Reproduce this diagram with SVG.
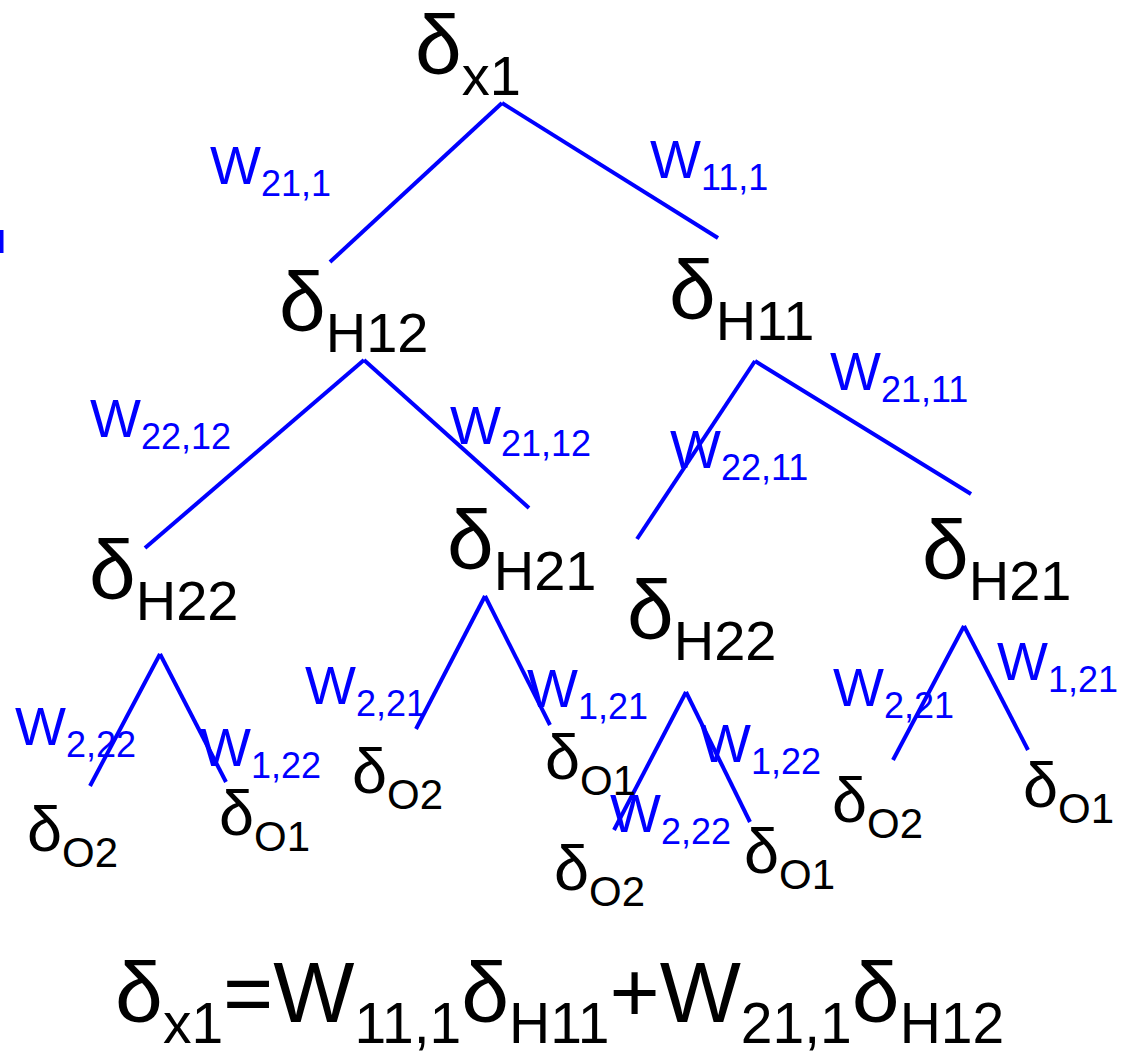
<svg xmlns="http://www.w3.org/2000/svg" width="1121" height="1054" viewBox="0 0 1121 1054">
<style>
text{font-family:"Liberation Sans",Arial,sans-serif}
.n{font-size:84px;fill:#000}
.n .s{font-size:56px}
.e{font-size:86px;fill:#000}
.e .s{font-size:57px}
.o{font-size:63px;fill:#000}
.o .s{font-size:42px}
.w{font-size:54px;fill:#0000ff}
.w .s{font-size:36px}
.c line{stroke:#0000ff;stroke-width:4;stroke-linecap:butt}
</style>
<rect width="1121" height="1054" fill="#fff"/>
<g class="c" id="connectors">
<line x1="502" y1="103" x2="330" y2="262"/>
<line x1="502" y1="103" x2="718" y2="238"/>
<line x1="364" y1="360" x2="145" y2="548"/>
<line x1="364" y1="360" x2="529" y2="508"/>
<line x1="755" y1="361" x2="637" y2="539"/>
<line x1="755" y1="361" x2="971" y2="494"/>
<line x1="160" y1="654" x2="90" y2="786"/>
<line x1="160" y1="654" x2="226" y2="782"/>
<line x1="485" y1="596" x2="416" y2="729"/>
<line x1="485" y1="596" x2="550" y2="725"/>
<line x1="686" y1="692" x2="614" y2="830"/>
<line x1="686" y1="692" x2="750" y2="822"/>
<line x1="964" y1="626" x2="893" y2="760"/>
<line x1="964" y1="626" x2="1028" y2="750"/>
<line x1="1.5" y1="230" x2="1.5" y2="253"/>
</g>
<g id="labels">
<text class="w" x="210" y="184">W<tspan class="s" dy="12">21,1</tspan></text>
<text class="w" x="650" y="178">W<tspan class="s" dy="12">11,1</tspan></text>
<text class="w" x="90" y="437">W<tspan class="s" dy="12">22,12</tspan></text>
<text class="w" x="450" y="444">W<tspan class="s" dy="12">21,12</tspan></text>
<text class="w" x="830" y="390">W<tspan class="s" dy="12">21,11</tspan></text>
<text class="w" x="670" y="468">W<tspan class="s" dy="12">22,11</tspan></text>
<text class="w" x="15" y="745">W<tspan class="s" dy="12">2,22</tspan></text>
<text class="w" x="200" y="766">W<tspan class="s" dy="12">1,22</tspan></text>
<text class="w" x="305" y="704">W<tspan class="s" dy="12">2,21</tspan></text>
<text class="w" x="527" y="707">W<tspan class="s" dy="12">1,21</tspan></text>
<text class="w" x="700" y="762">W<tspan class="s" dy="12">1,22</tspan></text>
<text class="w" x="610" y="832">W<tspan class="s" dy="12">2,22</tspan></text>
<text class="w" x="833" y="706">W<tspan class="s" dy="12">2,21</tspan></text>
<text class="w" x="997" y="680">W<tspan class="s" dy="12">1,21</tspan></text>
</g>
<g id="node-x1"><text class="n" x="415" y="74">δ<tspan class="s" dy="21">x1</tspan></text></g>
<g id="node-h12"><text class="n" x="279" y="331">δ<tspan class="s" dy="21">H12</tspan></text></g>
<g id="node-h11"><text class="n" x="669" y="319">δ<tspan class="s" dy="21">H11</tspan></text></g>
<g id="node-h22a"><text class="n" x="89" y="599">δ<tspan class="s" dy="21">H22</tspan></text></g>
<g id="node-h21a"><text class="n" x="447" y="569">δ<tspan class="s" dy="21">H21</tspan></text></g>
<g id="node-h22b"><text class="n" x="627" y="639">δ<tspan class="s" dy="21">H22</tspan></text></g>
<g id="node-h21b"><text class="n" x="922" y="579">δ<tspan class="s" dy="21">H21</tspan></text></g>
<g id="node-o2a"><text class="o" x="27" y="851">δ<tspan class="s" dy="16">O2</tspan></text></g>
<g id="node-o1a"><text class="o" x="219" y="835">δ<tspan class="s" dy="16">O1</tspan></text></g>
<g id="node-o2b"><text class="o" x="352" y="793">δ<tspan class="s" dy="16">O2</tspan></text></g>
<g id="node-o1b"><text class="o" x="545" y="779">δ<tspan class="s" dy="16">O1</tspan></text></g>
<g id="node-o2c"><text class="o" x="554" y="890">δ<tspan class="s" dy="16">O2</tspan></text></g>
<g id="node-o1c"><text class="o" x="744" y="873">δ<tspan class="s" dy="16">O1</tspan></text></g>
<g id="node-o2d"><text class="o" x="832" y="822">δ<tspan class="s" dy="16">O2</tspan></text></g>
<g id="node-o1d"><text class="o" x="1023" y="807">δ<tspan class="s" dy="16">O1</tspan></text></g>
<g id="equation"><text class="e" x="115" y="1022">δ<tspan class="s" dy="21">x1</tspan><tspan dy="-21">=W</tspan><tspan class="s" dy="21">11,1</tspan><tspan dy="-21">δ</tspan><tspan class="s" dy="21">H11</tspan><tspan dy="-21">+W</tspan><tspan class="s" dy="21">21,1</tspan><tspan dy="-21">δ</tspan><tspan class="s" dy="21">H12</tspan></text></g>
</svg>
